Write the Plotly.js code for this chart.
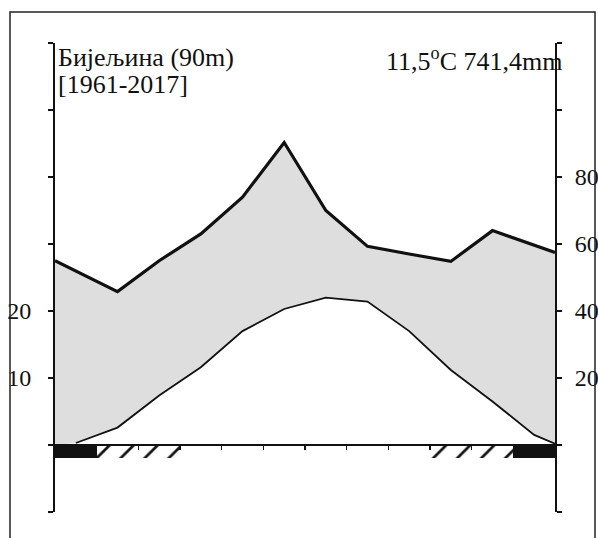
<!DOCTYPE html>
<html>
<head>
<meta charset="utf-8">
<script src="https://cdn.plot.ly/plotly-3.0.1.min.js"></script>
<style>body{margin:0;padding:0;background:#fff;} #chart{width:598px;height:538px;}</style>
</head>
<body>
<div id="chart"></div>
<script>
// ---- data ----
const months = ['Jan','Feb','Mar','Apr','May','Jun','Jul','Aug','Sep','Oct','Nov','Dec'];
const temperature = [0.3, 2.6, 7.4, 11.6, 17.0, 20.3, 22.0, 21.4, 17.0, 11.2, 6.5, 1.5]; // °C
const precipitation = [52.0, 45.8, 55.0, 63.0, 74.0, 90.3, 70.0, 59.3, 57.0, 54.8, 64.0, 59.6]; // mm
const precipEdges = [55.0, 57.5];   // mm at start / end of year
const tempEdges = [0.0, 0.2];       // °C at start / end of year
const sureFrostMonths = ['Jan','Dec'];
const probableFrostMonths = ['Feb','Mar','Oct','Nov'];
const frostDepth = -2;              // °C depth of frost band
const tempTicks = [-10,0,10,20,30,40,50,60];
const tempTickLabels = ['','','10','20','','','',''];
const precipTicks = [-20,0,20,40,60,80,100,120];
const precipTickLabels = ['','','20','40','60','80','',''];
const stationLabel = 'Бијељина (90m)';
const periodLabel = '[1961-2017]';
const summaryLabel = '11,5<sup>o</sup>C 741,4mm';

// ---- derived positions (month centres on a 0..12 scale) ----
const xc = months.map((m,i)=>i+0.5);
const xEdge = [0].concat(xc, [12]);
const tempFillY = [tempEdges[0]].concat(temperature, [tempEdges[1]]);
const precipFull = [precipEdges[0]].concat(precipitation, [precipEdges[1]]);
const precipOnTempScale = precipFull.map(v=>v/2);
const tempLineX = xc.concat([12]);
const tempLineY = temperature.concat([tempEdges[1]]);
const monthX = m => months.indexOf(m)+0.5;

const font = 'Liberation Serif, Times New Roman, serif';

const traces = [
  {x:xEdge, y:tempFillY, mode:'lines', line:{width:0}, hoverinfo:'skip', showlegend:false},
  {x:xEdge, y:precipOnTempScale, mode:'lines', line:{width:0}, fill:'tonexty', fillcolor:'#dedede', hoverinfo:'skip', showlegend:false},
  {x:tempLineX, y:tempLineY, mode:'lines', line:{color:'#111', width:1.8}, showlegend:false},
  {x:xEdge, y:precipFull, yaxis:'y2', mode:'lines', line:{color:'#111', width:3.2}, showlegend:false},
  {type:'bar', x:sureFrostMonths.map(monthX), y:sureFrostMonths.map(()=>frostDepth), base:0, width:1,
   marker:{color:'#111', line:{width:0}}, showlegend:false},
  {type:'bar', x:probableFrostMonths.map(monthX), y:probableFrostMonths.map(()=>frostDepth), base:0, width:1,
   marker:{color:'#fff', line:{width:0}, pattern:{shape:'/', fgcolor:'#111', bgcolor:'#fff', size:17, solidity:0.16}}, showlegend:false}
];

const ppx = px => (px-55)/500;
const ppy = py => (512-py)/469;

const layout = {
  width:598, height:538,
  margin:{l:55, r:43, t:43, b:26},
  paper_bgcolor:'#fff', plot_bgcolor:'rgba(0,0,0,0)',
  barmode:'overlay', bargap:0,
  font:{family:font, color:'#111', size:24},
  xaxis:{range:[0,12], anchor:'free', position:1/7, showline:true, linecolor:'#111', linewidth:2,
         tickvals:[1,2,3,4,5,6,7,8,9,10,11], ticks:'outside', ticklen:4, tickwidth:1.5, tickcolor:'#111',
         showticklabels:false, showgrid:false, zeroline:false, fixedrange:true, layer:'above traces'},
  yaxis:{range:[-10,60], showline:true, linecolor:'#111', linewidth:2, ticks:'outside', ticklen:5, tickwidth:1.5,
         tickcolor:'#111', tickvals:tempTicks, ticktext:tempTickLabels, showgrid:false, zeroline:false,
         ticklabelstandoff:12, tickfont:{family:font, size:24, color:'#111'}},
  yaxis2:{range:[-20,120], overlaying:'y', side:'right', showline:true, linecolor:'#111', linewidth:2, ticks:'outside',
         ticklen:5, tickwidth:1.5, tickcolor:'#111', tickvals:precipTicks, ticktext:precipTickLabels, showgrid:false,
         zeroline:false, ticklabelstandoff:8, tickfont:{family:font, size:24, color:'#111'}},
  shapes:[
    {type:'rect', xref:'paper', yref:'paper', x0:ppx(10), x1:ppx(595), y0:ppy(560), y1:ppy(12),
     line:{color:'#222', width:1.5}, fillcolor:'rgba(0,0,0,0)'}
  ],
  annotations:[
    {text:stationLabel, xref:'paper', yref:'paper', x:0, y:1, xanchor:'left', yanchor:'top', xshift:1, yshift:2,
     showarrow:false, font:{family:font, size:26, color:'#111'}},
    {text:periodLabel, xref:'paper', yref:'paper', x:0, y:1, xanchor:'left', yanchor:'top', xshift:1, yshift:-25,
     showarrow:false, font:{family:font, size:26, color:'#111'}},
    {text:summaryLabel, xref:'paper', yref:'paper', x:ppx(564), y:1, xanchor:'right', yanchor:'top', yshift:2,
     showarrow:false, font:{family:font, size:26, color:'#111'}}
  ]
};

Plotly.newPlot('chart', traces, layout, {staticPlot:true, displayModeBar:false});
</script>
</body>
</html>
